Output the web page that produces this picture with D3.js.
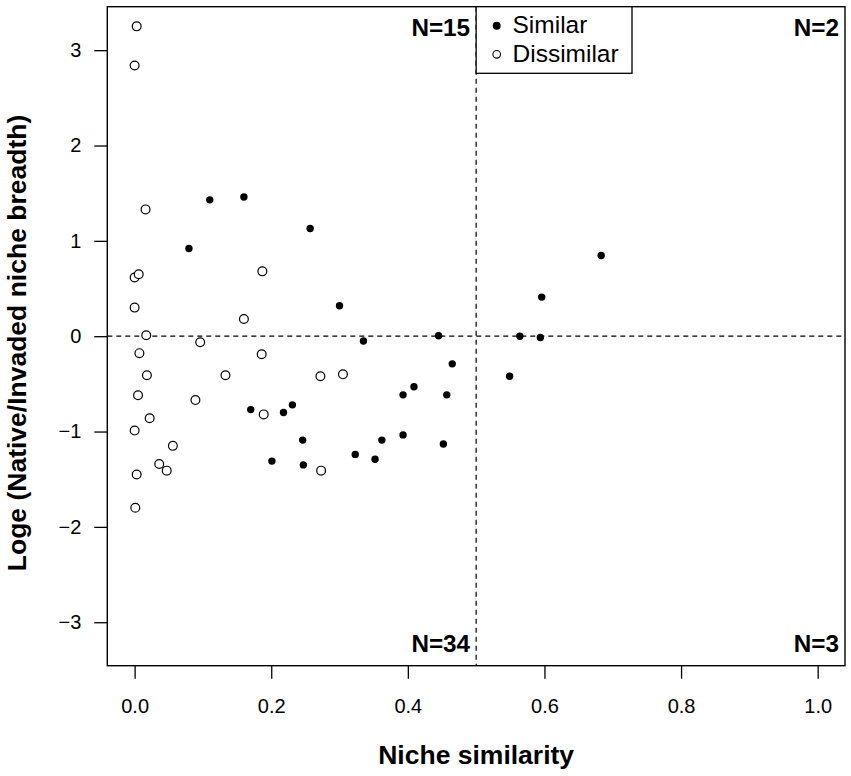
<!DOCTYPE html>
<html><head><meta charset="utf-8">
<script src="https://cdn.jsdelivr.net/npm/d3@7"></script>
<style>body{margin:0;background:#fff}svg{display:block}text{font-family:"Liberation Sans",Arial,sans-serif;fill:#000}</style>
</head><body>
<svg id="c" width="851" height="776"></svg>
<script>
// Data
const similarX = [0.110,0.160,0.257,0.0795,0.300,0.445,0.335,0.465,0.409,0.393,0.457,0.170,0.218,0.231,0.246,0.362,0.393,0.452,0.323,0.352,0.201,0.247,0.564,0.594,0.596,0.549,0.683];
const similarY = [1.43,1.46,1.13,0.92,0.32,0.004,-0.05,-0.29,-0.53,-0.615,-0.615,-0.77,-0.80,-0.72,-1.09,-1.09,-1.035,-1.13,-1.24,-1.29,-1.31,-1.35,0.0,-0.014,0.41,-0.42,0.847];
const dissimilarX = [0.003,0.0,0.016,0.0,0.006,0.187,0.0,0.160,0.017,0.096,0.007,0.186,0.018,0.133,0.272,0.305,0.005,0.089,0.189,0.022,0.0,0.056,0.036,0.047,0.273,0.003,0.001];
const dissimilarY = [3.25,2.84,1.33,0.616,0.65,0.68,0.30,0.18,0.01,-0.063,-0.178,-0.19,-0.41,-0.41,-0.42,-0.40,-0.62,-0.67,-0.82,-0.86,-0.99,-1.15,-1.34,-1.41,-1.41,-1.45,-1.80];
const xTicks = [0,0.2,0.4,0.6,0.8,1.0];
const yTicks = [-3,-2,-1,0,1,2,3];
const quadrantLabels = [
  {x:0.5, y:"top", text:"N=15"},
  {x:1.04, y:"top", text:"N=2"},
  {x:0.5, y:"bottom", text:"N=34"},
  {x:1.04, y:"bottom", text:"N=3"}
];
const legendItems = [{label:"Similar", filled:true},{label:"Dissimilar", filled:false}];
const xTitle = "Niche similarity";
const yTitle = "Loge (Native/Invaded niche breadth)";

const svg = d3.select("#c");
const L = 107.3, R = 845, T = 6.7, B = 665.7;
const x = d3.scaleLinear().domain([-0.04, 1.04]).range([L, R]);
const y = d3.scaleLinear().domain([-3.456, 3.456]).range([B, T]);

// reference lines
svg.append("line").attr("x1",L).attr("x2",R).attr("y1",y(0)).attr("y2",y(0))
  .attr("stroke","#000").attr("stroke-width",1.2).attr("stroke-dasharray","5,4");
svg.append("line").attr("x1",x(0.5)).attr("x2",x(0.5)).attr("y1",T).attr("y2",B)
  .attr("stroke","#000").attr("stroke-width",1.2).attr("stroke-dasharray","5,4");

// axes
const xAxis = d3.axisBottom(x).tickValues(xTicks).tickFormat(d3.format(".1f")).tickSize(13).tickPadding(20);
const gx = svg.append("g").attr("transform",`translate(0,${B})`).call(xAxis);
gx.select(".domain").remove();
gx.selectAll("line").attr("stroke","#000").attr("stroke-width",1.3);
gx.selectAll("text").attr("font-size","20px").attr("font-family","Liberation Sans, Arial, sans-serif").attr("fill","#000");

const yAxis = d3.axisLeft(y).tickValues(yTicks).tickFormat(d => d < 0 ? "\u2212" + Math.abs(d) : d).tickSize(13).tickPadding(13);
const gy = svg.append("g").attr("transform",`translate(${L},0)`).call(yAxis);
gy.select(".domain").remove();
gy.selectAll("line").attr("stroke","#000").attr("stroke-width",1.3);
gy.selectAll("text").attr("font-size","20px").attr("font-family","Liberation Sans, Arial, sans-serif").attr("fill","#000");

// box
svg.append("rect").attr("x",L).attr("y",T).attr("width",R-L).attr("height",B-T)
  .attr("fill","none").attr("stroke","#000").attr("stroke-width",1.4);

// points
const sim = similarX.map((v,i)=>({x:v,y:similarY[i]}));
const dis = dissimilarX.map((v,i)=>({x:v,y:dissimilarY[i]}));
svg.append("g").selectAll("circle").data(dis).join("circle")
  .attr("cx",d=>x(d.x)).attr("cy",d=>y(d.y)).attr("r",4.4)
  .attr("fill","#fff").attr("stroke","#000").attr("stroke-width",1.2);
svg.append("g").selectAll("circle").data(sim).join("circle")
  .attr("cx",d=>x(d.x)).attr("cy",d=>y(d.y)).attr("r",3.7).attr("fill","#000");

// quadrant labels
svg.append("g").selectAll("text").data(quadrantLabels).join("text")
  .attr("x",d=> d.x >= 1 ? R - 6 : x(d.x) - 6)
  .attr("y",d=> d.y === "top" ? 36 : 651.7)
  .attr("text-anchor","end").attr("font-weight","bold").attr("font-size","24.3px")
  .text(d=>d.text);

// legend
const lg = svg.append("g");
lg.append("rect").attr("x",x(0.5)).attr("y",T).attr("width",632-x(0.5)).attr("height",73.3-T)
  .attr("fill","#fff").attr("stroke","#000").attr("stroke-width",1.3);
legendItems.forEach((it,i)=>{
  const cy = 25.7 + i*28.6;
  lg.append("circle").attr("cx",496.7).attr("cy",cy).attr("r",it.filled?4:3.8)
    .attr("fill", it.filled ? "#000" : "#fff").attr("stroke","#000").attr("stroke-width", it.filled?0:1.1);
  lg.append("text").attr("x",512.5).attr("y",cy+7.5).attr("font-size","24.5px").text(it.label);
});

// titles
svg.append("text").attr("x",(L+R)/2).attr("y",764).attr("text-anchor","middle")
  .attr("font-weight","bold").attr("font-size","26.5px").text(xTitle);
svg.append("text").attr("transform",`translate(26,343) rotate(-90)`).attr("text-anchor","middle")
  .attr("font-weight","bold").attr("font-size","26.5px").text(yTitle);
</script>
</body></html>
